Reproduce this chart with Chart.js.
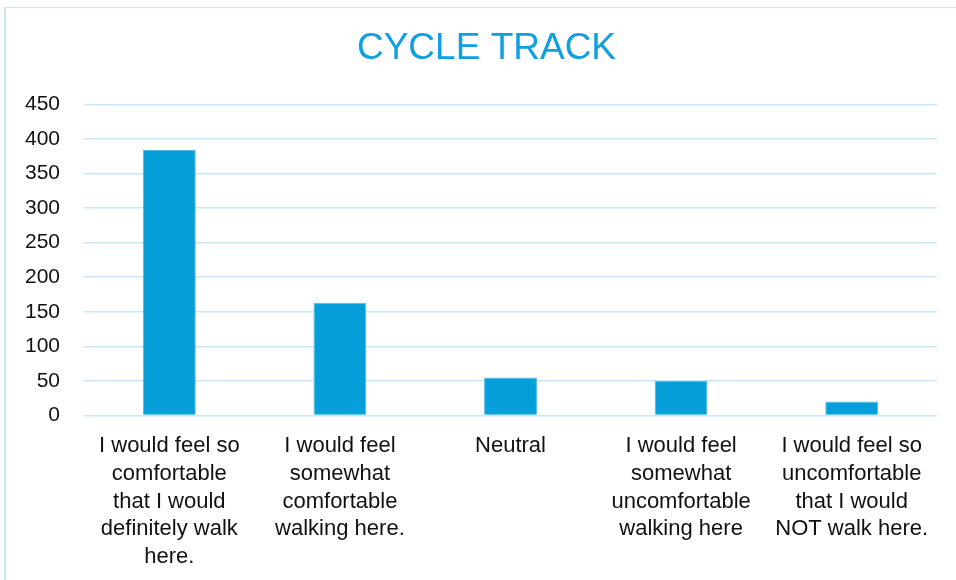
<!DOCTYPE html>
<html>
<head>
<meta charset="utf-8">
<script src="https://cdn.jsdelivr.net/npm/chart.js@4/dist/chart.umd.min.js"></script>
<style>
  html, body { margin: 0; padding: 0; background: #fff; overflow: hidden; }
  #frame {
    position: absolute; left: 4px; top: 7px; width: 1000px; height: 700px;
    border-left: 2px solid #c9e8f8; border-top: 1px solid #c9e8f8;
  }
  #wrap { position: absolute; left: 0; top: 0; width: 956px; height: 580px; }
</style>
</head>
<body>
<div id="frame"></div>
<div id="wrap"><canvas id="chart"></canvas></div>
<script>
// Categorias (quebradas em linhas como no original)
var categories = [
  ['I would feel so', 'comfortable', 'that I would', 'definitely walk', 'here.'],
  ['I would feel', 'somewhat', 'comfortable', 'walking here.'],
  ['Neutral'],
  ['I would feel', 'somewhat', 'uncomfortable', 'walking here'],
  ['I would feel so', 'uncomfortable', 'that I would', 'NOT walk here.']
];

// Respostas
var responses = [384, 163, 55, 50, 20];

// Eixo Y
var yMin = 0;
var yMax = 450;
var yStep = 50;

// Desloca o título um pouco para a direita, como no original
var titleShift = {
  id: 'titleShift',
  afterLayout: function (chart) {
    if (chart.titleBlock) {
      var c = (chart.titleBlock.left + chart.titleBlock.right) / 2;
      var d = 486.5 - c;
      chart.titleBlock.left += d;
      chart.titleBlock.right += d;
    }
  }
};

var ctx = document.getElementById('chart').getContext('2d');
var chart = new Chart(ctx, {
  type: 'bar',
  data: {
    labels: categories,
    datasets: [{
      label: 'CYCLE TRACK',
      data: responses,
      backgroundColor: '#069fda',
      borderColor: '#4fbbe8',
      borderWidth: 1,
      barPercentage: 0.31,
      categoryPercentage: 1
    }]
  },
  options: {
    responsive: true,
    maintainAspectRatio: false,
    animation: false,
    layout: { padding: { left: 1, right: 19, top: 0, bottom: 0 } },
    plugins: {
      legend: { display: false },
      tooltip: { enabled: false },
      title: {
        display: true,
        text: 'CYCLE TRACK',
        color: '#0ea0e3',
        font: { family: '"Liberation Sans", Arial, sans-serif', size: 37, weight: 'normal', lineHeight: 1.2 },
        padding: { top: 27, bottom: 33 }
      }
    },
    scales: {
      x: {
        grid: { display: false },
        border: { display: false },
        ticks: {
          color: '#111',
          padding: 9,
          maxRotation: 0,
          autoSkip: false,
          font: { family: '"Liberation Sans", Arial, sans-serif', size: 22, lineHeight: 1.26 }
        }
      },
      y: {
        min: yMin,
        max: yMax,
        border: { display: false },
        grid: { color: '#c8e7f8', lineWidth: 1.5, drawTicks: false },
        ticks: {
          stepSize: yStep,
          color: '#111',
          padding: 24,
          font: { family: '"Liberation Sans", Arial, sans-serif', size: 21 }
        }
      }
    }
  },
  plugins: [titleShift]
});
</script>
</body>
</html>
